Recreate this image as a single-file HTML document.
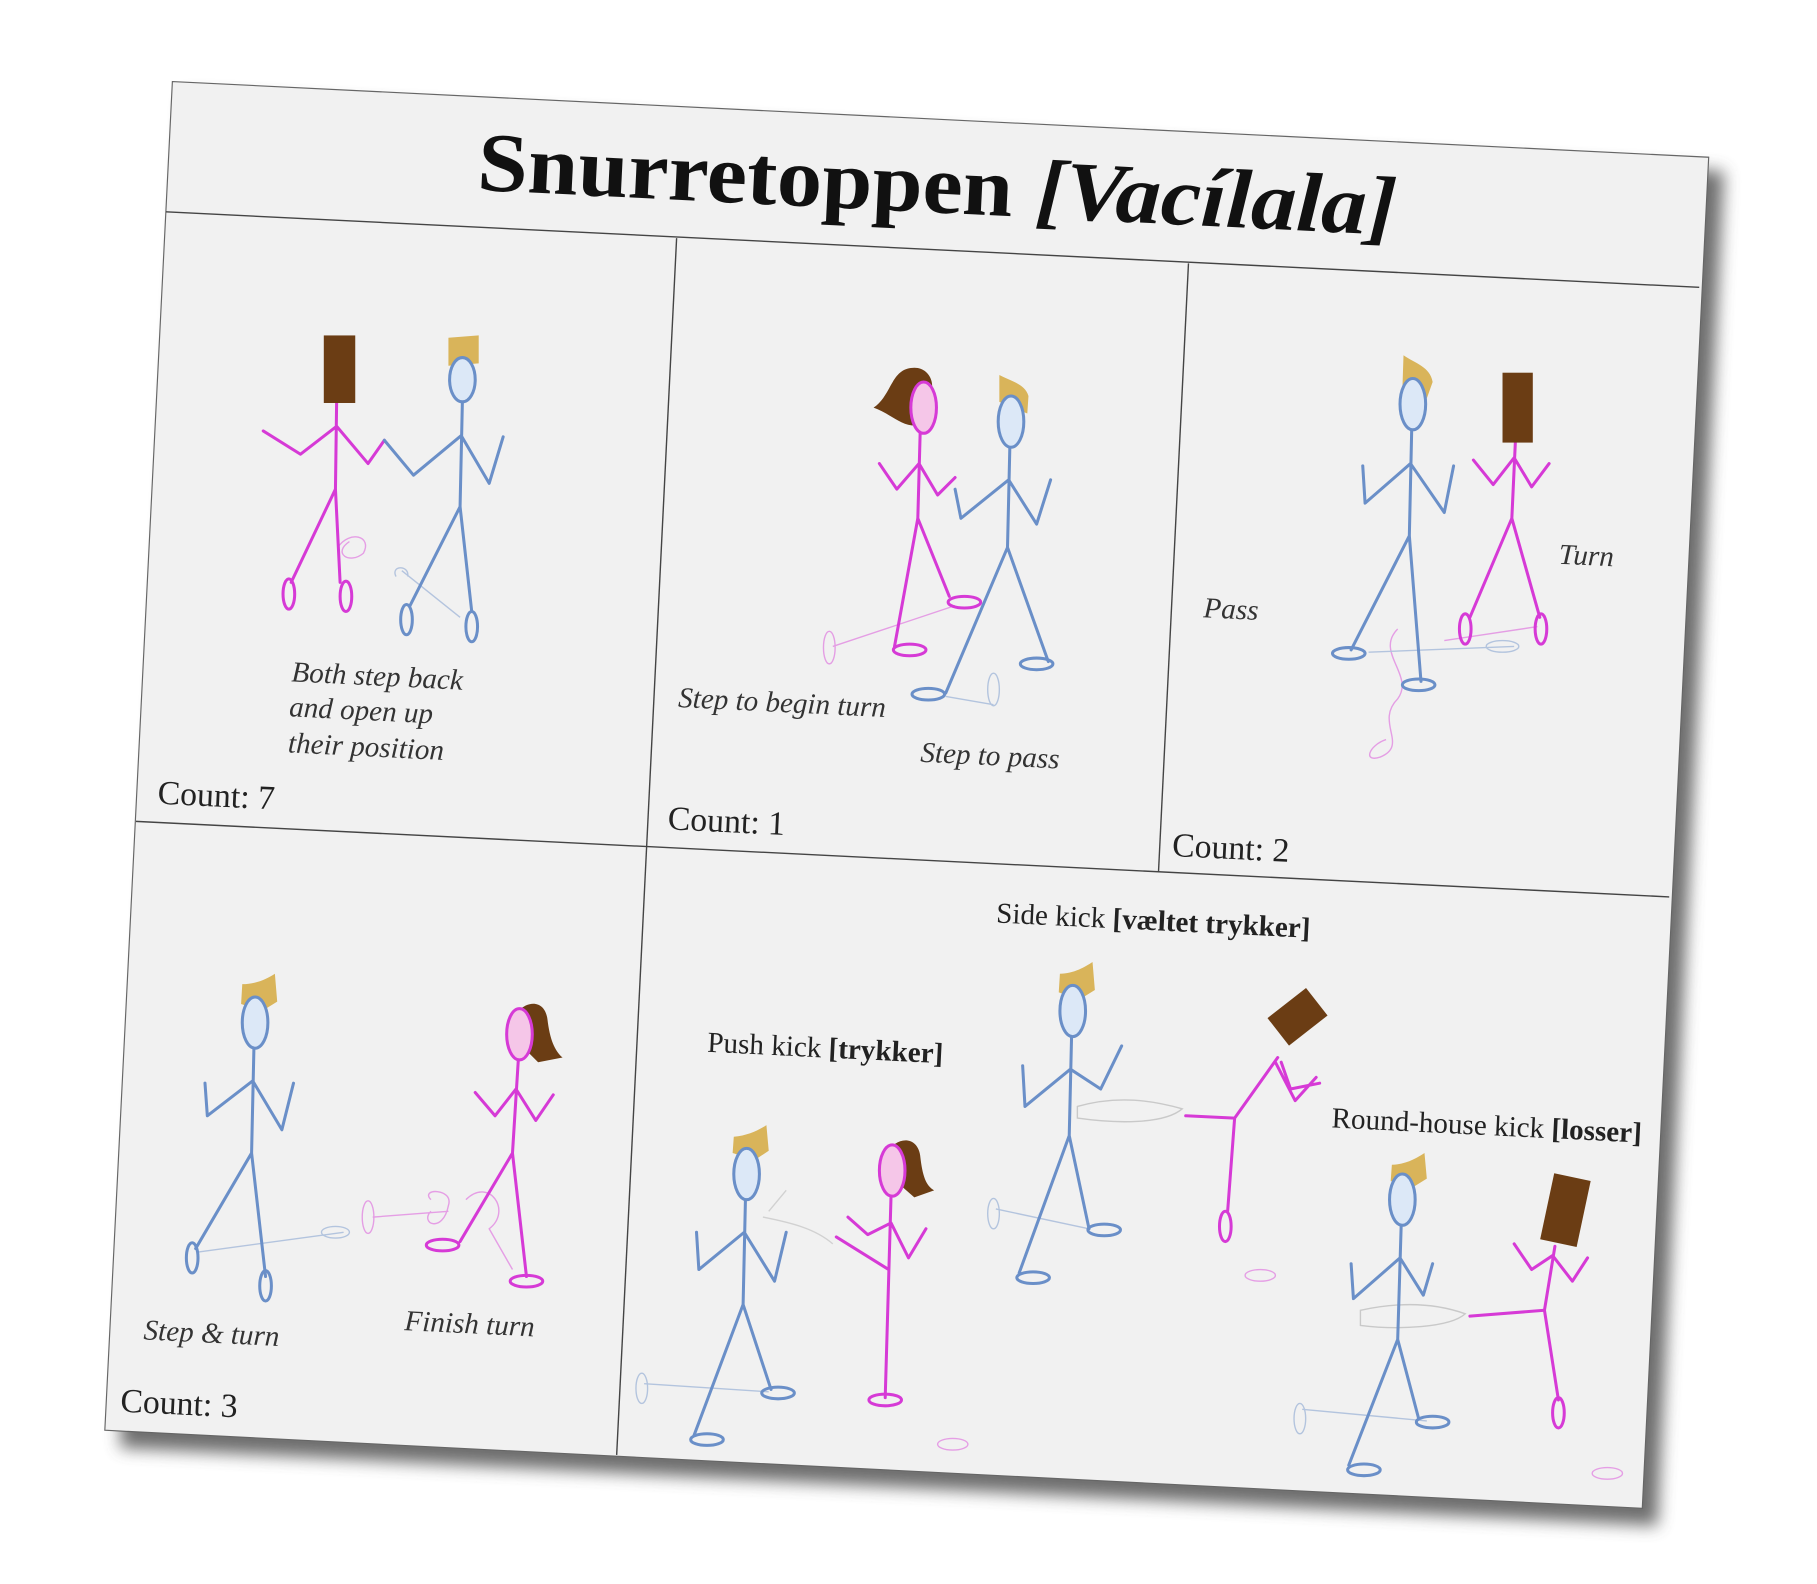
<!DOCTYPE html>
<html><head><meta charset="utf-8"><style>
html,body{margin:0;padding:0;background:#fff;}
svg{display:block}
text{font-family:"Liberation Serif",serif;fill:#222}
.it{font-style:italic;fill:#333}
</style></head><body>
<svg width="1817" height="1584" viewBox="0 0 1560 1360" preserveAspectRatio="none" xmlns="http://www.w3.org/2000/svg">
<defs>
<filter id="sh" x="-10%" y="-10%" width="120%" height="120%"><feGaussianBlur stdDeviation="7"/></filter>
</defs>
<rect width="1560" height="1360" fill="#fff"/>
<polygon points="160,82 1480,147 1423,1310 103,1243" fill="#555" filter="url(#sh)" opacity="0.85"/>
<polygon points="148,70 1467,135 1410,1295 90,1228" fill="#f1f1f1" stroke="#666" stroke-width="1"/>
<g transform="translate(148,70) rotate(2.82)" stroke="#444" stroke-width="1.2" fill="none">
  <line x1="0" y1="112" x2="1318" y2="112"/>
  <line x1="0" y1="636" x2="1318" y2="636"/>
  <line x1="439" y1="113" x2="439" y2="1159"/>
  <line x1="879" y1="113" x2="879" y2="636"/>
</g>
<text x="410" y="163" font-size="72" font-weight="bold" textLength="790" lengthAdjust="spacingAndGlyphs" transform="rotate(2.82 410 145)" style="fill:#111">Snurretoppen <tspan font-style="italic">[Vacílala]</tspan></text>

<g font-size="25">
<text class="it" x="250" y="585" transform="rotate(2.8 250 585)">Both step back</text>
<text class="it" x="248" y="615" transform="rotate(2.8 248 615)">and open up</text>
<text class="it" x="247" y="646" transform="rotate(2.8 247 646)">their position</text>
<text class="it" x="582" y="607" transform="rotate(2.8 582 607)">Step to begin turn</text>
<text class="it" x="790" y="654" transform="rotate(2.8 790 654)">Step to pass</text>
<text class="it" x="1033" y="530" transform="rotate(2.8 1033 530)">Pass</text>
<text class="it" x="1338" y="484" transform="rotate(2.8 1338 484)">Turn</text>
<text class="it" x="123" y="1150" transform="rotate(2.8 123 1150)">Step &amp; turn</text>
<text class="it" x="347" y="1142" transform="rotate(2.8 347 1142)">Finish turn</text>
<text x="855" y="792" transform="rotate(2.8 855 792)">Side kick <tspan font-weight="bold">[væltet trykker]</tspan></text>
<text x="607" y="903" transform="rotate(2.8 607 903)">Push kick <tspan font-weight="bold">[trykker]</tspan></text>
<text x="1143" y="968" transform="rotate(2.8 1143 968)">Round-house kick <tspan font-weight="bold">[losser]</tspan></text>
</g>
<g font-size="29">
<text x="135" y="690" transform="rotate(2.8 135 690)">Count: 7</text>
<text x="573" y="712" transform="rotate(2.8 573 712)">Count: 1</text>
<text x="1006" y="735" transform="rotate(2.8 1006 735)">Count: 2</text>
<text x="103" y="1212" transform="rotate(2.8 103 1212)">Count: 3</text>
</g>

<g fill="none" stroke-width="1.2" opacity="0.45">
<path d="M290,470 C300,455 320,460 312,475 C300,485 285,475 300,465" stroke="#d63ad6"/>
<path d="M345,490 L395,530 M340,495 C335,485 352,485 350,495" stroke="#6a8fc8"/>
<ellipse cx="712" cy="556" rx="5" ry="14" stroke="#d63ad6"/>
<line x1="715" y1="555" x2="820" y2="520" stroke="#d63ad6"/>
<ellipse cx="853" cy="592" rx="5" ry="14" stroke="#6a8fc8"/>
<line x1="812" y1="598" x2="853" y2="605" stroke="#6a8fc8"/>
<path d="M1200,540 C1180,560 1215,580 1200,600 C1180,620 1210,640 1185,650 C1170,655 1175,640 1190,635" stroke="#d63ad6"/>
<line x1="1175" y1="560" x2="1300" y2="555" stroke="#6a8fc8"/>
<ellipse cx="1290" cy="555" rx="14" ry="5" stroke="#6a8fc8"/>
<line x1="1240" y1="550" x2="1320" y2="538" stroke="#d63ad6"/>
<line x1="170" y1="1075" x2="295" y2="1058" stroke="#6a8fc8"/>
<ellipse cx="288" cy="1058" rx="12" ry="5" stroke="#6a8fc8"/>
<ellipse cx="316" cy="1045" rx="5" ry="14" stroke="#d63ad6"/>
<path d="M320,1045 L385,1040 M370,1030 C360,1020 390,1020 385,1035 C380,1060 360,1050 370,1040 M400,1030 C420,1010 440,1040 420,1055 L440,1090" stroke="#d63ad6"/>
<ellipse cx="551" cy="1192" rx="5" ry="13" stroke="#6a8fc8"/>
<line x1="553" y1="1188" x2="660" y2="1195" stroke="#6a8fc8"/>
<path d="M660,1040 L675,1022 M655,1045 C680,1050 700,1055 715,1068" stroke="#aaa"/>
<ellipse cx="818" cy="1240" rx="13" ry="5" stroke="#d63ad6"/>
<ellipse cx="853" cy="1042" rx="5" ry="13" stroke="#6a8fc8"/>
<line x1="855" y1="1038" x2="935" y2="1055" stroke="#6a8fc8"/>
<path d="M925,950 C960,940 990,945 1015,952 C1000,965 960,965 925,960 Z" stroke="#999"/>
<ellipse cx="1082" cy="1095" rx="13" ry="5" stroke="#d63ad6"/>
<ellipse cx="1116" cy="1218" rx="5" ry="13" stroke="#6a8fc8"/>
<line x1="1118" y1="1210" x2="1225" y2="1220" stroke="#6a8fc8"/>
<path d="M1168,1125 C1200,1118 1230,1118 1258,1128 C1245,1140 1200,1142 1168,1138 Z" stroke="#999"/>
<ellipse cx="1380" cy="1265" rx="13" ry="5" stroke="#d63ad6"/>
</g>

<g fill="none" stroke-width="2.6" stroke-linecap="round" stroke-linejoin="round">
<g stroke="#d63ad6">
<path d="M289,346 L288,420 M226,370 L258,390 L289,366 L316,398 L330,378 M288,420 L250,500 M288,420 L292,500"/>
<ellipse cx="248" cy="510" rx="5" ry="13"/><ellipse cx="297" cy="512" rx="5" ry="13"/>
</g>
<rect x="278" y="288" width="27" height="58" fill="#6b3d14"/>
<g stroke="#6a8fc8">
<path d="M397,344 L395,435 M330,378 L355,408 L396,374 L420,415 L432,375 M395,435 L352,520 M395,435 L405,525"/>
<ellipse cx="349" cy="532" rx="5" ry="13"/><ellipse cx="405" cy="538" rx="5" ry="13"/>
</g>
<path d="M385,290 L411,288 L411,312 L385,314 Z" fill="#d9b45a"/>
<ellipse cx="397" cy="326" rx="11" ry="19" fill="#dce8f7" stroke="#6a8fc8" stroke-width="2.6"/>

<g stroke="#d63ad6">
<path d="M790,372 L788,445 M755,398 L770,420 L789,398 L805,425 L820,410 M788,445 L768,555 M788,445 L815,512"/>
<ellipse cx="781" cy="558" rx="14" ry="5"/><ellipse cx="828" cy="517" rx="14" ry="5"/>
</g>
<path d="M750,350 C765,340 765,318 782,316 C795,314 802,325 800,335 L790,365 C775,368 765,355 750,350 Z" fill="#6b3d14"/>
<ellipse cx="793" cy="350" rx="11" ry="22" fill="#f5c6e8" stroke="#d63ad6" stroke-width="2.6"/>
<g stroke="#6a8fc8">
<path d="M867,384 L865,470 M820,420 L825,445 L866,412 L890,450 L902,412 M865,470 L812,595 M865,470 L900,568"/>
<ellipse cx="797" cy="596" rx="14" ry="5"/><ellipse cx="890" cy="570" rx="14" ry="5"/>
</g>
<path d="M858,322 C870,328 880,330 883,340 L882,355 L858,345 Z" fill="#d9b45a"/>
<ellipse cx="868" cy="362" rx="11" ry="22" fill="#dce8f7" stroke="#6a8fc8" stroke-width="2.6"/>

<g stroke="#6a8fc8">
<path d="M1212,370 L1210,460 M1170,400 L1172,432 L1211,398 L1240,440 L1248,400 M1210,460 L1160,558 M1210,460 L1220,585"/>
<ellipse cx="1158" cy="561" rx="14" ry="5"/><ellipse cx="1218" cy="588" rx="14" ry="5"/>
</g>
<path d="M1205,305 C1215,312 1228,315 1230,328 L1225,342 L1204,335 Z" fill="#d9b45a"/>
<ellipse cx="1213" cy="347" rx="11" ry="22" fill="#dce8f7" stroke="#6a8fc8" stroke-width="2.6"/>
<g stroke="#d63ad6">
<path d="M1301,380 L1298,445 M1265,395 L1282,416 L1300,393 L1315,418 L1330,398 M1298,445 L1262,530 M1298,445 L1322,530"/>
<ellipse cx="1258" cy="540" rx="5" ry="13"/><ellipse cx="1323" cy="540" rx="5" ry="13"/>
</g>
<rect x="1290" y="320" width="26" height="60" fill="#6b3d14"/>

<g stroke="#6a8fc8">
<path d="M218,900 L216,990 M176,930 L178,958 L217,928 L242,970 L252,930 M216,990 L168,1072 M216,990 L228,1096"/>
<ellipse cx="165" cy="1080" rx="5" ry="13"/><ellipse cx="228" cy="1104" rx="5" ry="13"/>
</g>
<path d="M208,845 C220,845 230,840 236,836 L238,860 L225,868 L207,862 Z" fill="#d9b45a"/>
<ellipse cx="219" cy="878" rx="11" ry="22" fill="#dce8f7" stroke="#6a8fc8" stroke-width="2.6"/>
<g stroke="#d63ad6">
<path d="M445,910 L440,990 M408,938 L425,958 L443,935 L460,962 L475,940 M440,990 L395,1066 M440,990 L452,1096"/>
<ellipse cx="380" cy="1069" rx="14" ry="5"/><ellipse cx="452" cy="1100" rx="14" ry="5"/>
</g>
<path d="M445,868 C455,858 468,860 470,875 C472,892 476,902 483,908 L462,912 L450,900 Z" fill="#6b3d14"/>
<ellipse cx="446" cy="888" rx="11" ry="22" fill="#f5c6e8" stroke="#d63ad6" stroke-width="2.6"/>

<g stroke="#6a8fc8">
<path d="M640,1030 L638,1120 M598,1058 L600,1090 L639,1058 L665,1100 L675,1058 M638,1120 L596,1232 M638,1120 L662,1193"/>
<ellipse cx="607" cy="1236" rx="14" ry="5"/><ellipse cx="668" cy="1196" rx="14" ry="5"/>
</g>
<path d="M630,976 C642,975 652,970 658,966 L660,988 L648,996 L629,990 Z" fill="#d9b45a"/>
<ellipse cx="641" cy="1008" rx="11" ry="22" fill="#dce8f7" stroke="#6a8fc8" stroke-width="2.6"/>
<g stroke="#d63ad6">
<path d="M765,1027 L760,1200 M728,1045 L745,1060 L765,1050 L780,1080 L795,1055 M763,1090 L718,1062"/>
<ellipse cx="760" cy="1202" rx="14" ry="5"/>
</g>
<path d="M765,985 C775,975 788,978 790,992 C792,1010 795,1018 802,1022 L785,1028 L770,1015 Z" fill="#6b3d14"/>
<ellipse cx="766" cy="1005" rx="11" ry="22" fill="#f5c6e8" stroke="#d63ad6" stroke-width="2.6"/>
<g stroke="#6a8fc8">
<path d="M920,890 L918,975 M878,915 L880,950 L919,918 L945,935 L963,898 M918,975 L875,1093 M918,975 L935,1055"/>
<ellipse cx="887" cy="1097" rx="14" ry="5"/><ellipse cx="948" cy="1056" rx="14" ry="5"/>
</g>
<path d="M910,836 C922,836 932,830 938,826 L940,850 L927,858 L909,852 Z" fill="#d9b45a"/>
<ellipse cx="921" cy="868" rx="11" ry="22" fill="#dce8f7" stroke="#6a8fc8" stroke-width="2.6"/>
<g stroke="#d63ad6">
<path d="M1097,908 L1060,960 M1095,912 L1112,945 L1130,925 M1100,912 L1108,935 L1133,930 M1060,960 L1018,958 M1060,960 L1054,1040"/>
<ellipse cx="1052" cy="1053" rx="5" ry="13"/>
</g>
<rect x="1093" y="858" width="42" height="30" fill="#6b3d14" transform="rotate(-38 1114 873)"/>
<g stroke="#6a8fc8">
<path d="M1203,1052 L1200,1150 M1160,1085 L1162,1115 L1202,1080 L1222,1112 L1230,1085 M1200,1150 L1158,1258 M1200,1150 L1218,1218"/>
<ellipse cx="1171" cy="1262" rx="14" ry="5"/><ellipse cx="1230" cy="1221" rx="14" ry="5"/>
</g>
<path d="M1195,1000 C1207,1000 1217,994 1223,990 L1225,1012 L1212,1020 L1194,1014 Z" fill="#d9b45a"/>
<ellipse cx="1204" cy="1030" rx="11" ry="22" fill="#dce8f7" stroke="#6a8fc8" stroke-width="2.6"/>
<g stroke="#d63ad6">
<path d="M1335,1070 L1326,1125 L1338,1202 M1300,1068 L1315,1090 L1333,1078 L1350,1100 L1363,1080 M1326,1125 L1262,1130"/>
<ellipse cx="1338" cy="1213" rx="5" ry="13"/>
</g>
<rect x="1328" y="1010" width="32" height="58" fill="#6b3d14" transform="rotate(12 1344 1039)"/>
</g>
</svg>
</body></html>
